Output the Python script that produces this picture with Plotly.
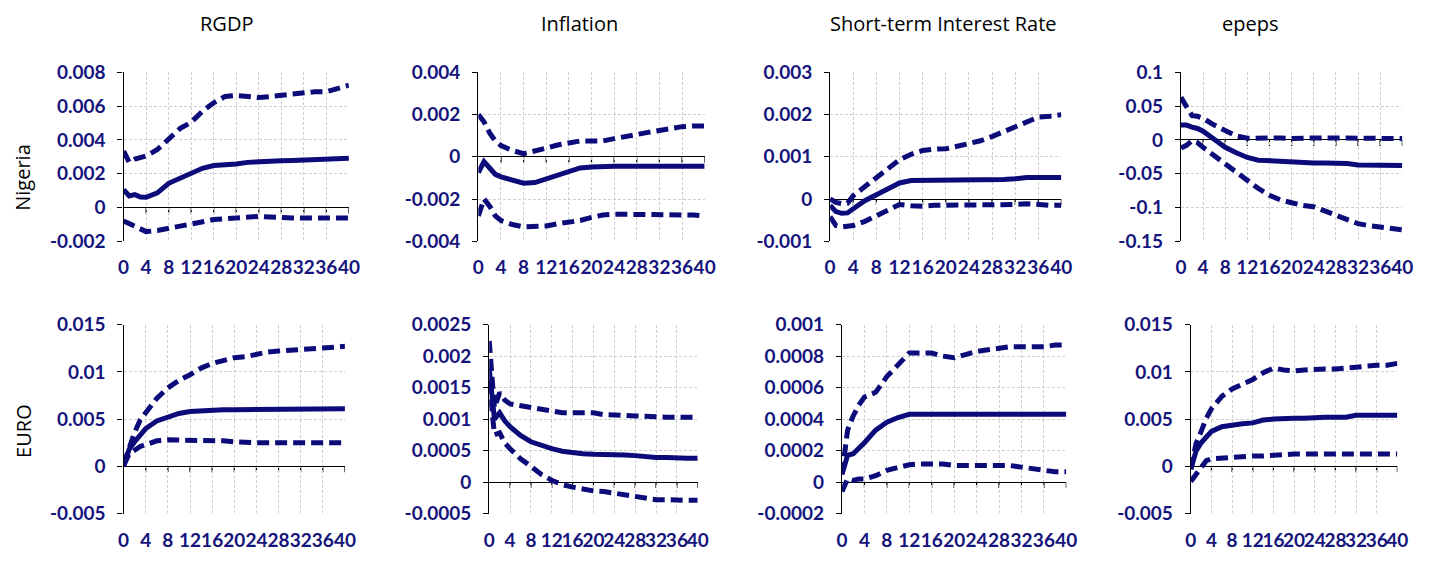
import plotly.graph_objects as go

# Impulse-response horizons (quarters)
HORIZON = [0, 1, 2, 3, 4, 6, 8, 10, 12, 14, 16, 18, 20, 22, 24, 26, 28, 30, 32, 34, 36, 38, 40]
X_TICKS = [0, 4, 8, 12, 16, 20, 24, 28, 32, 36, 40]

COLUMN_TITLES = ["RGDP", "Inflation", "Short-term Interest Rate", "epeps"]
ROW_TITLES = ["Nigeria", "EURO"]

# ---- Nigeria ----
NG_RGDP_MID = [0.00105, 0.00068, 0.00076, 0.00062, 0.0006, 0.00086, 0.00143, 0.00175, 0.002, 0.00232, 0.00248,
               0.00251, 0.00257, 0.00267, 0.00272, 0.00274, 0.00276, 0.00278, 0.00282, 0.00285, 0.00286, 0.00288, 0.00291]
NG_RGDP_UP = [0.00333, 0.00267, 0.00286, 0.00295, 0.00305, 0.00343, 0.0041, 0.00467, 0.00505, 0.0057, 0.0062,
              0.00657, 0.00663, 0.00657, 0.00651, 0.00657, 0.00663, 0.0067, 0.00682, 0.00686, 0.00686, 0.00705, 0.00724]
NG_RGDP_LO = [-0.0008, -0.00095, -0.0011, -0.00127, -0.00143, -0.00137, -0.00124, -0.0011, -0.00099, -0.0008, -0.00072,
              -0.00067, -0.00061, -0.00053, -0.00053, -0.00057, -0.00063, -0.00063, -0.00063, -0.00063, -0.00063, -0.00063, -0.00063]

NG_INFL_MID = [-0.00075, -0.00023, -0.00053, -0.00083, -0.00095, -0.00113, -0.00125, -0.00122, -0.00106, -0.00086, -0.00068,
               -0.00053, -0.00048, -0.00045, -0.00045, -0.00045, -0.00045, -0.00045, -0.00045, -0.00045, -0.00045, -0.00045, -0.00045]
NG_INFL_UP = [0.002, 0.00166, 0.00113, 0.00075, 0.00053, 0.0003, 0.00015, 0.00026, 0.00041, 0.00056, 0.00068,
              0.00075, 0.00075, 0.00075, 0.00086, 0.00098, 0.00106, 0.00116, 0.00125, 0.00136, 0.00143, 0.00146, 0.00146]
NG_INFL_LO = [-0.0028, -0.002, -0.00234, -0.0028, -0.00302, -0.00321, -0.00332, -0.00328, -0.00328, -0.00317, -0.0031,
              -0.00302, -0.00287, -0.00276, -0.00272, -0.00272, -0.00272, -0.00272, -0.00272, -0.00272, -0.00272, -0.00276, -0.0028]

NG_RATE_MID = [-0.00015, -0.0003, -0.00034, -0.00033, -0.00023, -0.00004, 0.0001, 0.00023, 0.00038, 0.00044, 0.00044,
               0.00044, 0.00044, 0.00044, 0.00046, 0.00046, 0.00046, 0.00046, 0.00048, 0.00051, 0.00051, 0.00051, 0.00051]
NG_RATE_UP = [0.0, -0.00008, -0.00011, -0.0001, 0.00008, 0.0003, 0.00049, 0.00072, 0.00093, 0.00106, 0.00115,
              0.00118, 0.00119, 0.00125, 0.00131, 0.00138, 0.00148, 0.00159, 0.00171, 0.00182, 0.00194, 0.00196, 0.002]
NG_RATE_LO = [-0.00042, -0.00063, -0.00066, -0.00065, -0.00063, -0.00053, -0.0004, -0.00028, -0.00013, -0.00016, -0.00017,
              -0.00015, -0.00015, -0.00015, -0.00015, -0.00015, -0.00015, -0.00015, -0.00013, -0.00011, -0.00014, -0.00015, -0.00015]

NG_EPEPS_MID = [0.022, 0.022, 0.019, 0.017, 0.013, 0.001, -0.011, -0.019, -0.026, -0.03, -0.031,
                -0.032, -0.033, -0.034, -0.034, -0.034, -0.034, -0.035, -0.037, -0.037, -0.038, -0.038, -0.038]
NG_EPEPS_UP = [0.063, 0.05, 0.036, 0.035, 0.032, 0.022, 0.013, 0.006, 0.0024, 0.003, 0.003,
               0.003, 0.002, 0.003, 0.003, 0.003, 0.003, 0.003, 0.003, 0.003, 0.003, 0.003, 0.002]
NG_EPEPS_LO = [-0.012, -0.008, -0.001, -0.004, -0.011, -0.023, -0.036, -0.049, -0.06, -0.072, -0.082,
               -0.089, -0.093, -0.097, -0.099, -0.105, -0.111, -0.118, -0.124, -0.127, -0.129, -0.13, -0.133]

# ---- Euro area ----
EU_RGDP_MID = [0.0, 0.0018, 0.0026, 0.0033, 0.004, 0.0048, 0.0052, 0.0056, 0.0058, 0.0059, 0.006,
               0.006, 0.006, 0.006, 0.006, 0.006, 0.006, 0.006, 0.006, 0.006, 0.006, 0.0061, 0.0061]
EU_RGDP_UP = [0.0002, 0.0021, 0.0036, 0.0049, 0.0057, 0.0072, 0.0083, 0.0091, 0.0097, 0.0104, 0.0109,
              0.0112, 0.0115, 0.0116, 0.0119, 0.0121, 0.0122, 0.0123, 0.0124, 0.0125, 0.0126, 0.0127, 0.0127]
EU_RGDP_LO = [0.0001, 0.0013, 0.0017, 0.0021, 0.0023, 0.0027, 0.0028, 0.0028, 0.0028, 0.0028, 0.0027,
              0.0027, 0.0026, 0.0025, 0.0025, 0.0025, 0.0025, 0.0025, 0.0025, 0.0025, 0.0025, 0.0025, 0.0025]

EU_INFL_MID = [0.0018, 0.001, 0.0011, 0.00097, 0.00088, 0.00074, 0.00064, 0.00058, 0.00053, 0.00049, 0.00046,
               0.00045, 0.00044, 0.00044, 0.00044, 0.00043, 0.00042, 0.0004, 0.00039, 0.00039, 0.00038, 0.00038, 0.00038]
EU_INFL_UP = [0.00224, 0.00118, 0.00142, 0.0013, 0.00124, 0.00121, 0.0012, 0.00116, 0.00112, 0.0011, 0.0011,
              0.0011, 0.0011, 0.00107, 0.00107, 0.00106, 0.00105, 0.00104, 0.00103, 0.00103, 0.00103, 0.00103, 0.00103]
EU_INFL_LO = [0.0016, 0.00075, 0.00078, 0.00062, 0.00053, 0.00037, 0.00025, 0.00012, 0.00003, -0.00004, -0.00008,
              -0.00012, -0.00014, -0.00015, -0.00018, -0.0002, -0.00024, -0.00027, -0.00028, -0.00028, -0.00029, -0.00029, -0.00029]

EU_RATE_MID = [0.00005, 0.00017, 0.00018, 0.00021, 0.00025, 0.00033, 0.00038, 0.00041, 0.00043, 0.00043, 0.00043,
               0.00043, 0.00043, 0.00043, 0.00043, 0.00043, 0.00043, 0.00043, 0.00043, 0.00043, 0.00043, 0.00043, 0.00043]
EU_RATE_UP = [0.00005, 0.00033, 0.00042, 0.00049, 0.00054, 0.00057, 0.00067, 0.00075, 0.00082, 0.00082, 0.00082,
              0.0008, 0.00079, 0.00081, 0.00083, 0.00084, 0.00085, 0.00086, 0.00086, 0.00086, 0.00086, 0.00087, 0.00087]
EU_RATE_LO = [-0.00006, 0.00002, 0.00001, 0.00002, 0.00002, 0.00004, 0.000075, 0.000095, 0.00011, 0.000115, 0.000115,
              0.000115, 0.000105, 0.000105, 0.000105, 0.000105, 0.000105, 0.000105, 0.000095, 0.000085, 0.00007, 0.000065, 0.000065]

EU_EPEPS_MID = [-0.0003, 0.0016, 0.0025, 0.0032, 0.0037, 0.0042, 0.0044, 0.0045, 0.0046, 0.0049, 0.005,
                0.0051, 0.0051, 0.0051, 0.0052, 0.0052, 0.0052, 0.0052, 0.0054, 0.0054, 0.0054, 0.0054, 0.0054]
EU_EPEPS_UP = [-0.0003, 0.0024, 0.0037, 0.0051, 0.0061, 0.0074, 0.0082, 0.0087, 0.0092, 0.0099, 0.0104,
               0.0102, 0.0101, 0.0102, 0.0103, 0.0103, 0.0103, 0.0104, 0.0106, 0.0107, 0.0107, 0.0107, 0.0109]
EU_EPEPS_LO = [-0.0016, -0.0009, 0.0, 0.0006, 0.0008, 0.0009, 0.001, 0.001, 0.0011, 0.0011, 0.0012,
               0.0013, 0.0013, 0.0013, 0.0013, 0.0013, 0.0013, 0.0013, 0.0013, 0.0013, 0.0013, 0.0013, 0.0013]

# y-axis tick values per panel
NG_RGDP_YT = [-0.002, 0, 0.002, 0.004, 0.006, 0.008]
NG_INFL_YT = [-0.004, -0.002, 0, 0.002, 0.004]
NG_RATE_YT = [-0.001, 0, 0.001, 0.002, 0.003]
NG_EPEPS_YT = [-0.15, -0.1, -0.05, 0, 0.05, 0.1]
EU_RGDP_YT = [-0.005, 0, 0.005, 0.01, 0.015]
EU_INFL_YT = [-0.0005, 0, 0.0005, 0.001, 0.0015, 0.002, 0.0025]
EU_RATE_YT = [-0.0002, 0, 0.0002, 0.0004, 0.0006, 0.0008, 0.001]
EU_EPEPS_YT = [-0.005, 0, 0.005, 0.01, 0.015]

panels = [
    (NG_RGDP_MID, NG_RGDP_UP, NG_RGDP_LO, NG_RGDP_YT),
    (NG_INFL_MID, NG_INFL_UP, NG_INFL_LO, NG_INFL_YT),
    (NG_RATE_MID, NG_RATE_UP, NG_RATE_LO, NG_RATE_YT),
    (NG_EPEPS_MID, NG_EPEPS_UP, NG_EPEPS_LO, NG_EPEPS_YT),
    (EU_RGDP_MID, EU_RGDP_UP, EU_RGDP_LO, EU_RGDP_YT),
    (EU_INFL_MID, EU_INFL_UP, EU_INFL_LO, EU_INFL_YT),
    (EU_RATE_MID, EU_RATE_UP, EU_RATE_LO, EU_RATE_YT),
    (EU_EPEPS_MID, EU_EPEPS_UP, EU_EPEPS_LO, EU_EPEPS_YT),
]

W, H = 1438, 561
# plot-area boxes in pixels: (left, right, top, bottom)
BOXES = [
    (119, 347, 63, 239), (478, 707, 63, 239), (834, 1068, 63, 239), (1189, 1413, 63, 239),
    (119, 343, 326, 523), (489, 700, 326, 523), (846, 1073, 326, 523), (1199, 1408, 326, 523),
]

NAVY = "#0b0b7a"
LABEL = "#14147c"
GRID = "#cfcfcf"
TICK_FONT = dict(family="Lato", size=19, color=LABEL, weight="bold")

fig = go.Figure()
layout = dict(
    width=W, height=H, margin=dict(l=0, r=0, t=0, b=0),
    paper_bgcolor="white", plot_bgcolor="white", showlegend=False,
)
shapes = []
annotations = []


def fmt(v):
    return "0" if v == 0 else ("%g" % v)


for i, ((mid, up, lo, yt), box) in enumerate(zip(panels, BOXES)):
    n = i + 1
    xa = "x" if n == 1 else f"x{n}"
    ya = "y" if n == 1 else f"y{n}"
    l, r, t, b = box
    for series, dash in ((up, "12px,6px"), (lo, "12px,6px"), (mid, "solid")):
        fig.add_trace(go.Scatter(
            x=HORIZON, y=series, mode="lines", xaxis=xa, yaxis=ya,
            line=dict(color=NAVY, width=5, dash=dash), hoverinfo="skip",
        ))
    layout[f"xaxis{n}"] = dict(
        domain=[l / W, r / W], anchor=ya, range=[0, 40],
        tickmode="array", tickvals=X_TICKS, ticktext=[str(v) for v in X_TICKS],
        tickangle=0, showgrid=True, gridcolor=GRID, griddash="3px,2px", gridwidth=1,
        zeroline=False, showline=False, ticks="",
        tickfont=TICK_FONT, ticklabelstandoff=13, fixedrange=True,
    )
    layout[f"yaxis{n}"] = dict(
        domain=[1 - b / H, 1 - t / H], anchor=xa, range=[yt[0], yt[-1]],
        tickmode="array", tickvals=yt, ticktext=[fmt(v) for v in yt],
        showgrid=True, gridcolor=GRID, griddash="3px,2px", gridwidth=1,
        zeroline=True, zerolinecolor="black", zerolinewidth=1.3,
        showline=True, linecolor="black", linewidth=1.3,
        ticks="outside", ticklen=5, tickcolor="black",
        tickfont=TICK_FONT, ticklabelstandoff=8, fixedrange=True,
    )
    # small tick marks hanging below the zero line
    for xv in X_TICKS[1:]:
        shapes.append(dict(
            type="line", xref=xa, yref=ya, x0=xv, x1=xv,
            ysizemode="pixel", yanchor=0, y0=0, y1=-6,
            line=dict(color="black", width=1.2), layer="below",
        ))

# column titles
TITLE_X = [223, 580, 949, 1259]
for txt, cx in zip(COLUMN_TITLES, TITLE_X):
    annotations.append(dict(
        text=txt, x=cx / W, y=1 - 12 / H, xref="paper", yref="paper",
        xanchor="center", yanchor="middle", showarrow=False,
        font=dict(family="Open Sans", size=20, color="black"),
    ))

# row titles
ROW_Y = [172, 437]
for txt, cy in zip(ROW_TITLES, ROW_Y):
    annotations.append(dict(
        text=txt, x=17 / W, y=1 - cy / H, xref="paper", yref="paper",
        xanchor="center", yanchor="middle", showarrow=False, textangle=-90,
        font=dict(family="Open Sans", size=20, color="black"),
    ))

layout["shapes"] = shapes
layout["annotations"] = annotations
fig.update_layout(**layout)
fig.write_html("out.html")
